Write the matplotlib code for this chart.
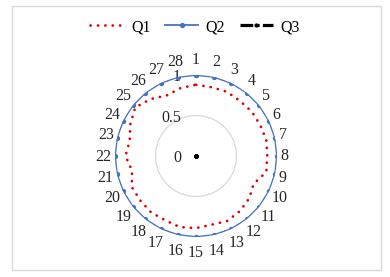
import numpy as np
import matplotlib
matplotlib.use('Agg')
import matplotlib.pyplot as plt
from matplotlib.patches import Rectangle

plt.rcParams['font.family'] = ['Liberation Serif', 'DejaVu Serif']

categories = [str(i) for i in range(1, 29)]
q1 = [0.88, 0.87, 0.88, 0.87, 0.88, 0.88, 0.89, 0.88, 0.89, 0.79,
      0.84, 0.87, 0.89, 0.87, 0.89, 0.90, 0.88, 0.89, 0.88, 0.88,
      0.81, 0.87, 0.84, 0.90, 0.96, 0.90, 0.83, 0.86]
q2 = [1.0] * 28
q3 = [0.0] * 28
r_ticks = [0, 0.5, 1]
r_labels = ['0', '0.5', '1']

fig = plt.figure(figsize=(3.9, 2.77), dpi=100)
fig.patches.append(Rectangle((12 / 390, 7 / 277), 369 / 390, 264 / 277,
                             transform=fig.transFigure, fill=False,
                             edgecolor='#D9D9D9', linewidth=1))

ax = fig.add_axes([115 / 390, 40 / 277, 162 / 390, 162 / 277], projection='polar')
ax.set_theta_zero_location('N')
ax.set_theta_direction(-1)
ax.set_ylim(0, 1)

theta = np.linspace(0, 2 * np.pi, len(categories), endpoint=False)
tc = np.append(theta, theta[0])


def closed(v):
    return np.append(v, v[0])


ax.plot(tc, closed(q1), linestyle=(0, (0.1, 2.7)), dash_capstyle='round',
        color='#E00000', linewidth=1.9, label='Q1', zorder=3)
ax.plot(tc, closed(q2), linestyle='-', color='#4472C4', linewidth=1.3,
        marker='o', markersize=2.8, label='Q2', zorder=4)
ax.plot(tc, closed(q3), linestyle=(0, (4.0, 1.0, 1.0, 1.0)), color='black',
        linewidth=2.3, marker='o', markersize=2.0, label='Q3', zorder=5)

ax.set_xticks(theta)
ax.set_xticklabels([])
ax.xaxis.grid(False)
ax.set_yticks([0.5])
ax.set_yticklabels([])
ax.yaxis.grid(True, color='#D9D9D9', linewidth=0.9)
ax.spines['polar'].set_visible(False)
ax.patch.set_alpha(0)

# category labels around the outside
for t, lab in zip(theta, categories):
    w = 7.6 * len(lab)
    dx = np.sin(t) * (4 + w / 2)
    dy = np.cos(t) * 15.5
    ax.annotate(lab, xy=(t, 1.0), xytext=(dx, dy - 0.5), textcoords='offset pixels',
                ha='center', va='center', fontsize=11.5, color='#262626')

# radial axis labels
for r, lab in zip(r_ticks, r_labels):
    ax.annotate(lab, xy=(0, r), xytext=(-15, -2), textcoords='offset pixels',
                ha='right', va='center', fontsize=11.5, color='#262626')

fig.legend(loc='center', bbox_to_anchor=(0.5, 1 - 27 / 277), ncol=3,
           frameon=False, fontsize=11.5, handlelength=2.1, columnspacing=0.9,
           handletextpad=0.45, numpoints=1)

fig.savefig('out.png', dpi=100)
